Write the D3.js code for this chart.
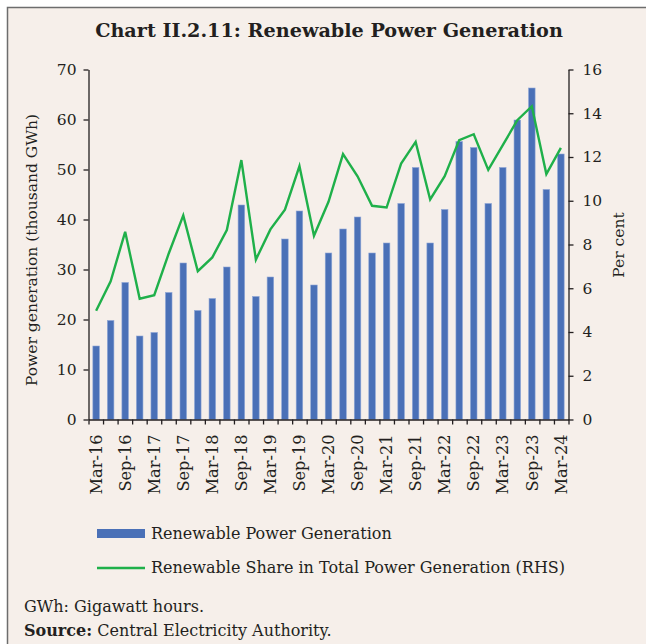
<!DOCTYPE html>
<html>
<head>
<meta charset="utf-8">
<script src="https://cdn.jsdelivr.net/npm/d3@7"></script>
<style>
  body { margin: 0; background: #fff; }
  svg text { font-family: "DejaVu Serif", serif; fill: #231f20; }
</style>
</head>
<body>
<script>
// quarters, Mar-16 .. Mar-24
const quarters = ["Mar-16","Jun-16","Sep-16","Dec-16","Mar-17","Jun-17","Sep-17","Dec-17",
  "Mar-18","Jun-18","Sep-18","Dec-18","Mar-19","Jun-19","Sep-19","Dec-19",
  "Mar-20","Jun-20","Sep-20","Dec-20","Mar-21","Jun-21","Sep-21","Dec-21",
  "Mar-22","Jun-22","Sep-22","Dec-22","Mar-23","Jun-23","Sep-23","Dec-23","Mar-24"];
// thousand GWh
const generation = [14.7,19.8,27.4,16.7,17.4,25.4,31.3,21.8,
  24.2,30.5,42.9,24.6,28.5,36.1,41.7,26.9,
  33.3,38.1,40.5,33.3,35.3,43.2,50.4,35.3,
  42.0,55.6,54.4,43.2,50.4,59.9,66.3,46.0,53.1];
// per cent (RHS)
const share = [4.97,6.32,8.58,5.52,5.68,7.59,9.33,6.78,
  7.41,8.66,11.86,7.31,8.69,9.59,11.58,8.40,
  9.95,12.13,11.12,9.77,9.69,11.70,12.69,10.06,
  11.12,12.77,13.04,11.41,12.54,13.68,14.32,11.22,12.42];
const leftTicks = [0,10,20,30,40,50,60,70];
const rightTicks = [0,2,4,6,8,10,12,14,16];

const width = 646, height = 644;
const margin = {top: 69.5, right: 77.5, bottom: 224.5, left: 88.5};

const svg = d3.select("body").append("svg")
  .attr("width", width).attr("height", height);

svg.append("rect").attr("width", width).attr("height", height).attr("fill", "#fff");
svg.append("rect")
  .attr("x", 7.5).attr("y", 7.5).attr("width", width).attr("height", height)
  .attr("fill", "#f6efea").attr("stroke", "#6d6d6d").attr("stroke-width", 1.5);

svg.append("text")
  .attr("x", 329).attr("y", 37)
  .attr("text-anchor", "middle")
  .attr("font-size", 19.2).attr("font-weight", "bold")
  .text("Chart II.2.11: Renewable Power Generation");

const x = d3.scaleBand()
  .domain(quarters)
  .range([margin.left, width - margin.right])
  .paddingInner(0.55).paddingOuter(0.3);

const xEdge = d3.scaleLinear()
  .domain([0, quarters.length])
  .range([margin.left, width - margin.right]);

const y = d3.scaleLinear()
  .domain([0, 70])
  .range([height - margin.bottom, margin.top]);

const y2 = d3.scaleLinear()
  .domain([0, 16])
  .range([height - margin.bottom, margin.top]);

// bars
svg.append("g")
  .selectAll("rect")
  .data(generation)
  .join("rect")
  .attr("x", (d, i) => x(quarters[i]))
  .attr("y", d => y(d))
  .attr("width", x.bandwidth())
  .attr("height", d => y(0) - y(d))
  .attr("fill", "#4a70b7")
  .attr("stroke", "#8ea6d6")
  .attr("stroke-width", 0.6);

// line
const line = d3.line()
  .x((d, i) => x(quarters[i]) + x.bandwidth() / 2)
  .y(d => y2(d));

svg.append("path")
  .datum(share)
  .attr("fill", "none")
  .attr("stroke", "#1fb04a")
  .attr("stroke-width", 2.4)
  .attr("d", line);

// axes
const axisStyle = (g, size) => {
  g.selectAll(".domain, line").attr("stroke", "#231f20").attr("stroke-width", 1.3);
  g.selectAll("text").attr("font-size", size).attr("font-family", "DejaVu Serif, serif").attr("fill", "#231f20");
};

svg.append("g")
  .attr("transform", `translate(${margin.left},0)`)
  .call(d3.axisLeft(y).tickValues(leftTicks).tickSize(5).tickPadding(7).tickSizeOuter(0))
  .call(axisStyle, 15.5);

svg.append("g")
  .attr("transform", `translate(${width - margin.right},0)`)
  .call(d3.axisRight(y2).tickValues(rightTicks).tickSize(5).tickPadding(9).tickSizeOuter(0))
  .call(axisStyle, 15.5);

svg.append("g")
  .attr("transform", `translate(0,${height - margin.bottom})`)
  .call(d3.axisBottom(xEdge).tickValues(d3.range(quarters.length + 1)).tickSize(5).tickFormat("").tickSizeOuter(0))
  .call(axisStyle, 15.5);

const xLabels = svg.append("g")
  .attr("transform", `translate(0,${height - margin.bottom})`)
  .call(d3.axisBottom(x).tickValues(quarters.filter((q, i) => i % 2 === 0)).tickSize(0).tickPadding(0))
  .call(axisStyle, 16.2);
xLabels.select(".domain").remove();
xLabels.selectAll("text")
  .attr("transform", "rotate(-90)")
  .attr("text-anchor", "end")
  .attr("dy", "0.35em")
  .attr("x", -15)
  .attr("y", 0);

// axis titles
svg.append("text")
  .attr("transform", `translate(37,250) rotate(-90)`)
  .attr("text-anchor", "middle")
  .attr("font-size", 15.5)
  .text("Power generation (thousand GWh)");

svg.append("text")
  .attr("transform", `translate(624,245) rotate(-90)`)
  .attr("text-anchor", "middle")
  .attr("font-size", 15.5)
  .text("Per cent");

// legend
const legend = svg.append("g");
legend.append("rect")
  .attr("x", 97).attr("y", 529).attr("width", 48).attr("height", 9)
  .attr("fill", "#4a70b7");
legend.append("text")
  .attr("x", 151).attr("y", 539).attr("font-size", 16)
  .text("Renewable Power Generation");
legend.append("line")
  .attr("x1", 97).attr("x2", 145).attr("y1", 568).attr("y2", 568)
  .attr("stroke", "#1fb04a").attr("stroke-width", 2.4);
legend.append("text")
  .attr("x", 151).attr("y", 573).attr("font-size", 16)
  .text("Renewable Share in Total Power Generation (RHS)");

// notes
svg.append("text")
  .attr("x", 24).attr("y", 612).attr("font-size", 16)
  .text("GWh: Gigawatt hours.");
const src = svg.append("text")
  .attr("x", 24).attr("y", 636).attr("font-size", 16);
src.append("tspan").attr("font-weight", "bold").text("Source:");
src.append("tspan").text(" Central Electricity Authority.");
</script>
</body>
</html>
